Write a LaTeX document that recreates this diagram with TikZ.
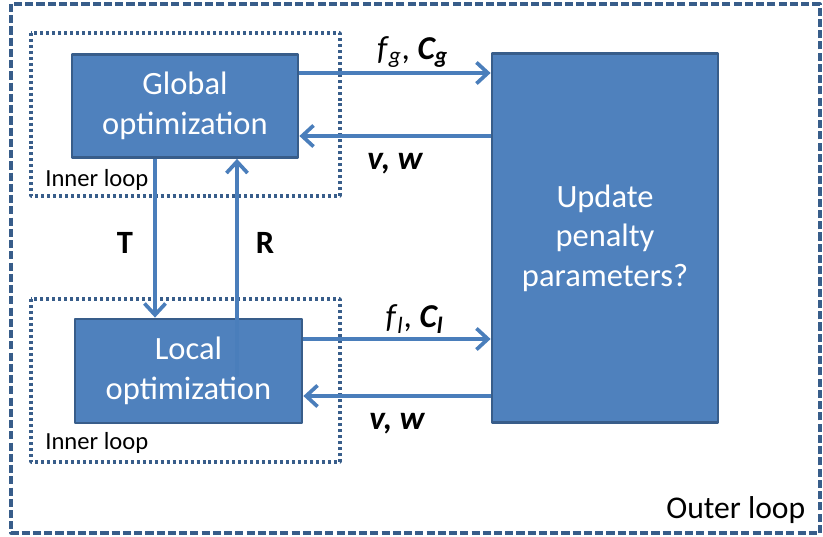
\documentclass[tikz,border=0pt]{standalone}
\usepackage{fontspec}
\setmainfont{Carlito}
\usetikzlibrary{arrows.meta,positioning}
\definecolor{boxblue}{HTML}{4F81BD}
\definecolor{edgeblue}{HTML}{385D8A}
\definecolor{arrowblue}{HTML}{4A7EBB}
\tikzset{
	optbox/.style={draw=edgeblue, fill=boxblue, line width=1.6pt, text=white, align=center, inner sep=0pt,
		font=\fontsize{18.5}{22.5}\selectfont},
	innerloop/.style={draw=edgeblue, line width=2pt, dash pattern=on 1.7pt off 1.7pt},
	outerloop/.style={draw=edgeblue, line width=1.8pt, dash pattern=on 4.6pt off 1.8pt},
	arr/.style={draw=arrowblue, line width=2.1pt, -{Straight Barb[length=6.5pt,width=12pt,line width=2.1pt]}},
	looplabel/.style={font=\fontsize{14}{16}\selectfont, anchor=west, inner sep=0pt},
	flabel/.style={font=\fontsize{19}{22}\selectfont, inner sep=0pt},
	vwlabel/.style={font=\fontsize{19}{22}\selectfont\bfseries\itshape, inner sep=0pt},
	tlabel/.style={font=\fontsize{18.5}{22}\selectfont\bfseries, inner sep=0pt}
}
\begin{document}
\begin{tikzpicture}[x=0.02cm, y=-0.02cm, line join=round]
	\useasboundingbox (0,0) rectangle (823,537);
	% loops
	\draw[outerloop] (11,4) rectangle (820,533);
	\draw[innerloop] (31,33) rectangle (340,196);
	\draw[innerloop] (31,299) rectangle (340,462);
	% boxes
	\node[optbox, minimum width=4.52cm, minimum height=2.06cm] (global) at (185,106) {Global\\optimization};
	\node[optbox, minimum width=4.54cm, minimum height=2.08cm] (local) at (188.5,371) {Local\\optimization};
	\node[optbox, minimum width=4.52cm, minimum height=7.38cm] (update) at (605,238) {Update\\penalty\\parameters?};
	\coordinate (rstart) at (237,377);
	% connectors
	\draw[arr] (global.east |- 0,73) -- (update.west |- 0,73) node[flabel, midway, above=2pt, xshift=10pt] {\textit{f}\textsubscript{\textit{g}}, \textbf{\textit{C\textsubscript{g}}}};
	\draw[arr] (update.west |- 0,136) -- (global.east |- 0,136) node[vwlabel, midway, below=9pt] {v, w};
	\draw[arr] (local.east |- 0,339) -- (update.west |- 0,339) node[flabel, midway, above=2pt, xshift=10pt] {\textit{f}\textsubscript{\textit{l}}, \textbf{\textit{C\textsubscript{l}}}};
	\draw[arr] (update.west |- 0,396) -- (local.east |- 0,396) node[vwlabel, midway, below=9pt] {v, w};
	\draw[arr] (global.south -| 155,0) -- (local.north -| 155,0);
	\draw[arr] (rstart) -- (global.south -| rstart);
	% labels
	\node[tlabel] (tl) at (125,243) {T};
	\node[tlabel] (rl) at (265,243) {R};
	\node[looplabel] (inner1) at (45,180) {Inner loop};
	\node[looplabel] (inner2) at (45,443) {Inner loop};
	\node[looplabel, font=\fontsize{18}{21}\selectfont] (outer) at (666,510) {Outer loop};
\end{tikzpicture}
\end{document}
